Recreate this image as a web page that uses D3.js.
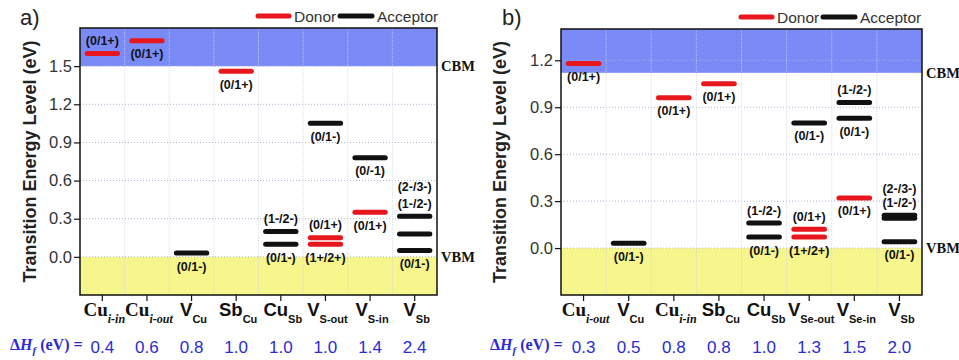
<!DOCTYPE html>
<html>
<head>
<meta charset="utf-8">
<script src="https://cdn.jsdelivr.net/npm/d3@7"></script>
<style>
  body { margin: 0; background: #fff; }
  svg { display: block; }
</style>
</head>
<body>
<div id="chart"></div>
<script>
// panel a) data
const catMainA = ["Cu", "Cu", "V", "Sb", "Cu", "V", "V", "V"];
const catSubA = ["i-in", "i-out", "Cu", "Cu", "Sb", "S-out", "S-in", "Sb"];
const dHA = [0.4, 0.6, 0.8, 1.0, 1.0, 1.0, 1.4, 2.4];
const cbmA = 1.5;
const yTicksA = [0, 0.3, 0.6, 0.9, 1.2, 1.5];
// [category, energy (eV), type]
const levelsA = [
    [0, 1.60, "donor"], [1, 1.70, "donor"], [2, 0.03, "acceptor"], [3, 1.46, "donor"],
    [4, 0.20, "acceptor"], [4, 0.10, "acceptor"],
    [5, 1.05, "acceptor"], [5, 0.15, "donor"], [5, 0.10, "donor"],
    [6, 0.78, "acceptor"], [6, 0.35, "donor"],
    [7, 0.32, "acceptor"], [7, 0.18, "acceptor"], [7, 0.05, "acceptor"]
];
// [category, energy, text, side] side: 1 above, 2 above twice, -1 below
const labelsA = [
    [0, 1.60, "(0/1+)", 1], [1, 1.70, "(0/1+)", -1], [2, 0.03, "(0/1-)", -1], [3, 1.46, "(0/1+)", -1],
    [4, 0.20, "(1-/2-)", 1], [4, 0.10, "(0/1-)", -1],
    [5, 1.05, "(0/1-)", -1], [5, 0.15, "(0/1+)", 1], [5, 0.10, "(1+/2+)", -1],
    [6, 0.78, "(0/-1)", -1], [6, 0.35, "(0/1+)", -1],
    [7, 0.32, "(2-/3-)", 2], [7, 0.32, "(1-/2-)", 1], [7, 0.05, "(0/1-)", -1]
];

// panel b) data
const catMainB = ["Cu", "V", "Cu", "Sb", "Cu", "V", "V", "V"];
const catSubB = ["i-out", "Cu", "i-in", "Cu", "Sb", "Se-out", "Se-in", "Sb"];
const dHB = [0.3, 0.5, 0.8, 0.8, 1.0, 1.3, 1.5, 2.0];
const cbmB = 1.12;
const yTicksB = [0, 0.3, 0.6, 0.9, 1.2];
const levelsB = [
    [0, 1.18, "donor"], [1, 0.03, "acceptor"], [2, 0.96, "donor"], [3, 1.05, "donor"],
    [4, 0.16, "acceptor"], [4, 0.07, "acceptor"],
    [5, 0.80, "acceptor"], [5, 0.12, "donor"], [5, 0.07, "donor"],
    [6, 0.93, "acceptor"], [6, 0.83, "acceptor"], [6, 0.32, "donor"],
    [7, 0.21, "acceptor"], [7, 0.19, "acceptor"], [7, 0.04, "acceptor"]
];
const labelsB = [
    [0, 1.18, "(0/1+)", -1], [1, 0.03, "(0/1-)", -1], [2, 0.96, "(0/1+)", -1], [3, 1.05, "(0/1+)", -1],
    [4, 0.16, "(1-/2-)", 1], [4, 0.07, "(0/1-)", -1],
    [5, 0.80, "(0/1-)", -1], [5, 0.12, "(0/1+)", 1], [5, 0.07, "(1+/2+)", -1],
    [6, 0.93, "(1-/2-)", 1], [6, 0.83, "(0/1-)", -1], [6, 0.32, "(0/1+)", -1],
    [7, 0.21, "(2-/3-)", 2], [7, 0.21, "(1-/2-)", 1], [7, 0.04, "(0/1-)", -1]
];

const SANS = "'Liberation Sans', Arial, sans-serif";
const SERIF = "'Liberation Serif', 'Times New Roman', serif";
const RED = "#e8161d";
const BLACK = "#111";
const BLUE_TXT = "#2b2bd6";

const svg = d3.select("#chart").append("svg")
    .attr("width", 959)
    .attr("height", 360);

function drawPanel(p) {
    const g = svg.append("g");

    const x = d3.scaleBand()
        .domain(d3.range(p.main.length))
        .range([p.left, p.right]);

    const y = d3.scaleLinear()
        .domain(p.domain)
        .range([p.bottom, p.top]);

    // CBM / VBM bands
    g.append("rect")
        .attr("x", p.left).attr("y", y(p.domain[1]))
        .attr("width", p.right - p.left)
        .attr("height", y(p.cbm) - y(p.domain[1]))
        .attr("fill", "#7a8bf7");
    g.append("rect")
        .attr("x", p.left).attr("y", y(0))
        .attr("width", p.right - p.left)
        .attr("height", y(p.domain[0]) - y(0))
        .attr("fill", "#f6f68c");

    // grid
    g.selectAll(".hgrid")
        .data(p.yTicks)
        .join("line")
        .attr("x1", p.left).attr("x2", p.right)
        .attr("y1", d => y(d)).attr("y2", d => y(d))
        .attr("stroke", "#a9b2d6")
        .attr("stroke-width", 1)
        .attr("stroke-dasharray", "1,2");
    g.selectAll(".vgrid")
        .data(d3.range(1, p.main.length))
        .join("line")
        .attr("x1", d => x(d)).attr("x2", d => x(d))
        .attr("y1", p.top).attr("y2", p.bottom)
        .attr("stroke", "#cfd3e6")
        .attr("stroke-opacity", 0.8)
        .attr("stroke-width", 1)
        .attr("stroke-dasharray", "1,1");

    // levels
    const half = x.bandwidth() * 0.34;
    g.selectAll(".lvl")
        .data(p.levels)
        .join("line")
        .attr("x1", d => x(d[0]) + x.bandwidth() / 2 - half)
        .attr("x2", d => x(d[0]) + x.bandwidth() / 2 + half)
        .attr("y1", d => y(d[1]))
        .attr("y2", d => y(d[1]))
        .attr("stroke", d => d[2] === "donor" ? RED : BLACK)
        .attr("stroke-width", 5)
        .attr("stroke-linecap", "round");

    // level labels
    g.selectAll(".lbl")
        .data(p.labels)
        .join("text")
        .attr("x", d => x(d[0]) + x.bandwidth() / 2)
        .attr("y", d => y(d[1]) - (d[3] === 2 ? p.stack2 : d[3] * 13))
        .attr("dy", "0.36em")
        .attr("text-anchor", "middle")
        .attr("font-family", SANS)
        .attr("font-weight", "bold")
        .attr("font-size", 12.5)
        .attr("fill", "#111")
        .text(d => d[2]);

    // frame
    g.append("rect")
        .attr("x", p.left).attr("y", p.top)
        .attr("width", p.right - p.left)
        .attr("height", p.bottom - p.top)
        .attr("fill", "none")
        .attr("stroke", "#111")
        .attr("stroke-width", 1.5);

    // y axis
    const yAx = g.append("g")
        .attr("transform", `translate(${p.left},0)`)
        .call(d3.axisLeft(y).tickValues(p.yTicks).tickFormat(d3.format(".1f")).tickSize(6).tickSizeOuter(0));
    yAx.select(".domain").remove();
    yAx.selectAll("line").attr("stroke", "#111").attr("stroke-width", 1.2);
    yAx.selectAll("text")
        .attr("font-family", SANS)
        .attr("font-size", 16.5)
        .attr("fill", "#333")
        .attr("x", -8);

    // x axis ticks
    const xAx = g.append("g")
        .attr("transform", `translate(0,${p.bottom})`)
        .call(d3.axisBottom(x).tickFormat("").tickSize(6).tickSizeOuter(0));
    xAx.select(".domain").remove();
    xAx.selectAll("line").attr("stroke", "#111").attr("stroke-width", 1.2);

    // category labels
    const cat = g.selectAll(".cat")
        .data(p.main.map((m, i) => ({ m, s: p.sub[i], i })))
        .join("text")
        .attr("x", d => x(d.i) + x.bandwidth() / 2 + 2)
        .attr("y", 316)
        .attr("text-anchor", "middle")
        .attr("font-weight", "bold")
        .attr("fill", "#111");
    cat.append("tspan")
        .attr("font-family", d => d.s.startsWith("i-") ? SERIF : SANS)
        .attr("font-size", d => d.s.startsWith("i-") ? 19 : 18.5)
        .text(d => d.m);
    cat.append("tspan")
        .attr("dy", 7)
        .attr("font-family", d => d.s.startsWith("i-") ? SERIF : SANS)
        .attr("font-style", d => d.s.startsWith("i-") ? "italic" : "normal")
        .attr("font-size", d => d.s.startsWith("i-") ? 12 : 11)
        .text(d => d.s);

    // formation energies row
    const dh = g.append("text")
        .attr("x", p.dhX).attr("y", 350)
        .attr("font-family", SERIF)
        .attr("font-weight", "bold")
        .attr("font-size", 16)
        .attr("fill", BLUE_TXT);
    dh.append("tspan").text("\u0394");
    dh.append("tspan").attr("font-style", "italic").text("H");
    dh.append("tspan").attr("font-style", "italic").attr("font-size", 11).attr("dy", 4).text("f");
    dh.append("tspan").attr("dy", -4).text(" (eV) =");

    g.selectAll(".dh")
        .data(p.dH)
        .join("text")
        .attr("x", (d, i) => x(i) + x.bandwidth() / 2)
        .attr("y", 353)
        .attr("text-anchor", "middle")
        .attr("font-family", SANS)
        .attr("font-size", 17)
        .attr("fill", BLUE_TXT)
        .text(d => d.toFixed(1));

    // CBM / VBM tags
    g.append("text")
        .attr("x", p.right + 4).attr("y", y(p.cbm)).attr("dy", "0.35em")
        .attr("font-family", SERIF).attr("font-weight", "bold").attr("font-size", 14.5)
        .attr("fill", "#111").text("CBM");
    g.append("text")
        .attr("x", p.right + 4).attr("y", y(0)).attr("dy", "0.35em")
        .attr("font-family", SERIF).attr("font-weight", "bold").attr("font-size", 14.5)
        .attr("fill", "#111").text("VBM");

    // y title
    g.append("text")
        .attr("transform", `translate(${p.titleX},${(p.top + p.bottom) / 2}) rotate(-90)`)
        .attr("text-anchor", "middle")
        .attr("dy", "0.35em")
        .attr("font-family", SANS)
        .attr("font-weight", "bold")
        .attr("font-size", 18)
        .attr("fill", "#222")
        .text("Transition Energy Level (eV)");

    // panel letter
    g.append("text")
        .attr("x", p.letterX).attr("y", 25)
        .attr("font-family", SANS)
        .attr("font-size", 22)
        .attr("fill", "#222")
        .text(p.letter);

    // legend
    const lg = g.append("g").attr("transform", `translate(${p.legendX},${p.legendY})`);
    lg.append("line").attr("x1", 0).attr("x2", 31).attr("y1", 0).attr("y2", 0)
        .attr("stroke", RED).attr("stroke-width", 5).attr("stroke-linecap", "round");
    lg.append("text").attr("x", 36).attr("dy", "0.36em")
        .attr("font-family", SANS).attr("font-size", 15.5).attr("fill", "#333").text("Donor");
    lg.append("line").attr("x1", 82).attr("x2", 114).attr("y1", 0).attr("y2", 0)
        .attr("stroke", BLACK).attr("stroke-width", 5).attr("stroke-linecap", "round");
    lg.append("text").attr("x", 119).attr("dy", "0.36em")
        .attr("font-family", SANS).attr("font-size", 15.5).attr("fill", "#333").text("Acceptor");
}

drawPanel({
    main: catMainA, sub: catSubA, dH: dHA, cbm: cbmA, yTicks: yTicksA,
    levels: levelsA, labels: labelsA,
    domain: [-0.3, 1.8], left: 80, right: 437, top: 28, bottom: 295,
    stack2: 30, dhX: 10, titleX: 30, letterX: 20, letter: "a)",
    legendX: 258, legendY: 16
});

drawPanel({
    main: catMainB, sub: catSubB, dH: dHB, cbm: cbmB, yTicks: yTicksB,
    levels: levelsB, labels: labelsB,
    domain: [-0.3, 1.4], left: 561, right: 922, top: 29, bottom: 295,
    stack2: 27, dhX: 490, titleX: 500, letterX: 502, letter: "b)",
    legendX: 741, legendY: 17
});
</script>
</body>
</html>
